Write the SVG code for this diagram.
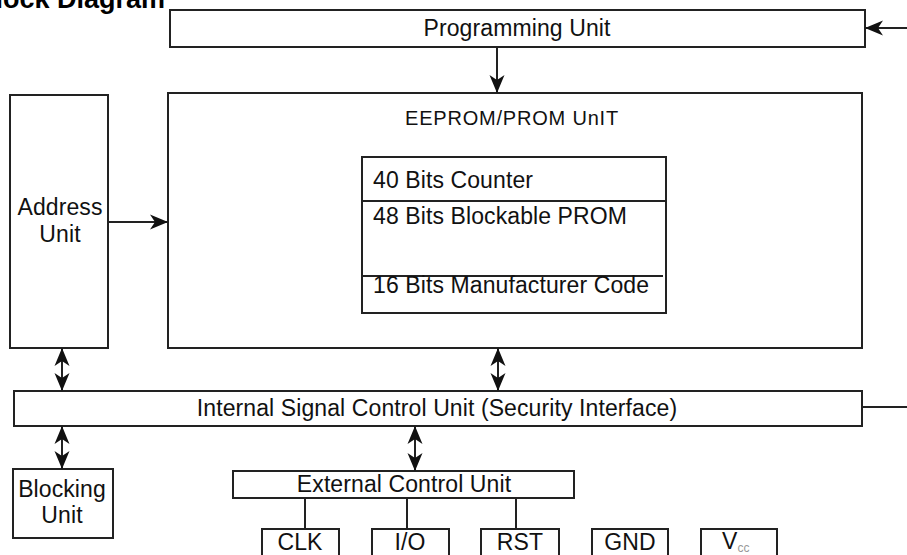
<svg xmlns="http://www.w3.org/2000/svg" width="907" height="555" viewBox="0 0 907 555">
<defs>
<style>
.box{fill:#fff;stroke:#222;stroke-width:2}
.ln{fill:none;stroke:#222;stroke-width:2}
.t{font-family:"Liberation Sans",Arial,sans-serif;font-size:23px;letter-spacing:0.1px;fill:#111}
.c{text-anchor:middle}
.title{font-family:"Liberation Sans",Arial,sans-serif;font-size:27px;font-weight:bold;fill:#000}
</style>
<marker id="ah" markerUnits="userSpaceOnUse" viewBox="0 -8 19 16" refX="18" refY="0" markerWidth="19" markerHeight="16" orient="auto-start-reverse">
<path d="M0,-7.5 L18,0 L0,7.5 L5,0 z" fill="#111"/>
</marker>
</defs>
<rect width="907" height="555" fill="#fff"/>
<text class="title" x="165" y="8" text-anchor="end">Block Diagram</text>

<g id="programming-unit">
<rect class="box" x="170" y="10" width="695" height="37"/>
<text class="t c" x="517" y="36">Programming Unit</text>
</g>

<g id="eeprom-unit">
<rect class="box" x="168" y="93" width="694" height="255"/>
<text class="t c" x="512" y="125" style="font-size:20px;letter-spacing:0.8px">EEPROM/PROM UnIT</text>
</g>

<g id="memory-block">
<rect class="box" x="362" y="157" width="304" height="156"/>
<line class="ln" x1="362" y1="201" x2="666" y2="201"/>
<line class="ln" x1="362" y1="276" x2="663" y2="276"/>
<text class="t" x="373" y="188">40 Bits Counter</text>
<text class="t" x="373" y="224">48 Bits Blockable PROM</text>
<text class="t" x="373" y="293">16 Bits Manufacturer Code</text>
</g>

<g id="address-unit">
<rect class="box" x="10" y="95" width="98" height="253"/>
<text class="t c" x="60" y="215">Address</text>
<text class="t c" x="60" y="242">Unit</text>
</g>

<g id="internal-signal-control-unit">
<rect class="box" x="14" y="391" width="848" height="35"/>
<text class="t c" x="437" y="416">Internal Signal Control Unit (Security Interface)</text>
</g>

<g id="blocking-unit">
<rect class="box" x="13" y="469" width="100" height="69"/>
<text class="t c" x="62" y="497">Blocking</text>
<text class="t c" x="62" y="523">Unit</text>
</g>

<g id="external-control-unit">
<rect class="box" x="233" y="471" width="341" height="27"/>
<text class="t c" x="404" y="492">External Control Unit</text>
</g>

<g id="clk">
<rect class="box" x="262" y="529" width="77" height="40"/>
<text class="t c" x="300" y="550">CLK</text>
</g>
<g id="io">
<rect class="box" x="372" y="529" width="77" height="40"/>
<text class="t c" x="410" y="550">I/O</text>
</g>
<g id="rst">
<rect class="box" x="481" y="529" width="78" height="40"/>
<text class="t c" x="520" y="550">RST</text>
</g>
<g id="gnd">
<rect class="box" x="592" y="529" width="76" height="40"/>
<text class="t c" x="630" y="550">GND</text>
</g>
<g id="vcc">
<rect class="box" x="701" y="529" width="76" height="40"/>
<text class="t" x="722" y="549">V<tspan style="font-size:12px" fill="#999" dy="3">cc</tspan></text>
</g>

<g id="connectors">
<line class="ln" x1="907" y1="28" x2="865" y2="28" marker-end="url(#ah)"/>
<line class="ln" x1="497" y1="47" x2="497" y2="93" marker-end="url(#ah)"/>
<line class="ln" x1="108" y1="222" x2="168" y2="222" marker-end="url(#ah)"/>
<line class="ln" x1="62" y1="348" x2="62" y2="391" marker-start="url(#ah)" marker-end="url(#ah)"/>
<line class="ln" x1="498" y1="348" x2="498" y2="391" marker-start="url(#ah)" marker-end="url(#ah)"/>
<line class="ln" x1="862" y1="407" x2="907" y2="407"/>
<line class="ln" x1="62" y1="426" x2="62" y2="469" marker-start="url(#ah)" marker-end="url(#ah)"/>
<line class="ln" x1="415" y1="426" x2="415" y2="471" marker-start="url(#ah)" marker-end="url(#ah)"/>
<line class="ln" x1="305" y1="498" x2="305" y2="529"/>
<line class="ln" x1="407" y1="498" x2="407" y2="529"/>
<line class="ln" x1="516" y1="498" x2="516" y2="529"/>
</g>
</svg>
